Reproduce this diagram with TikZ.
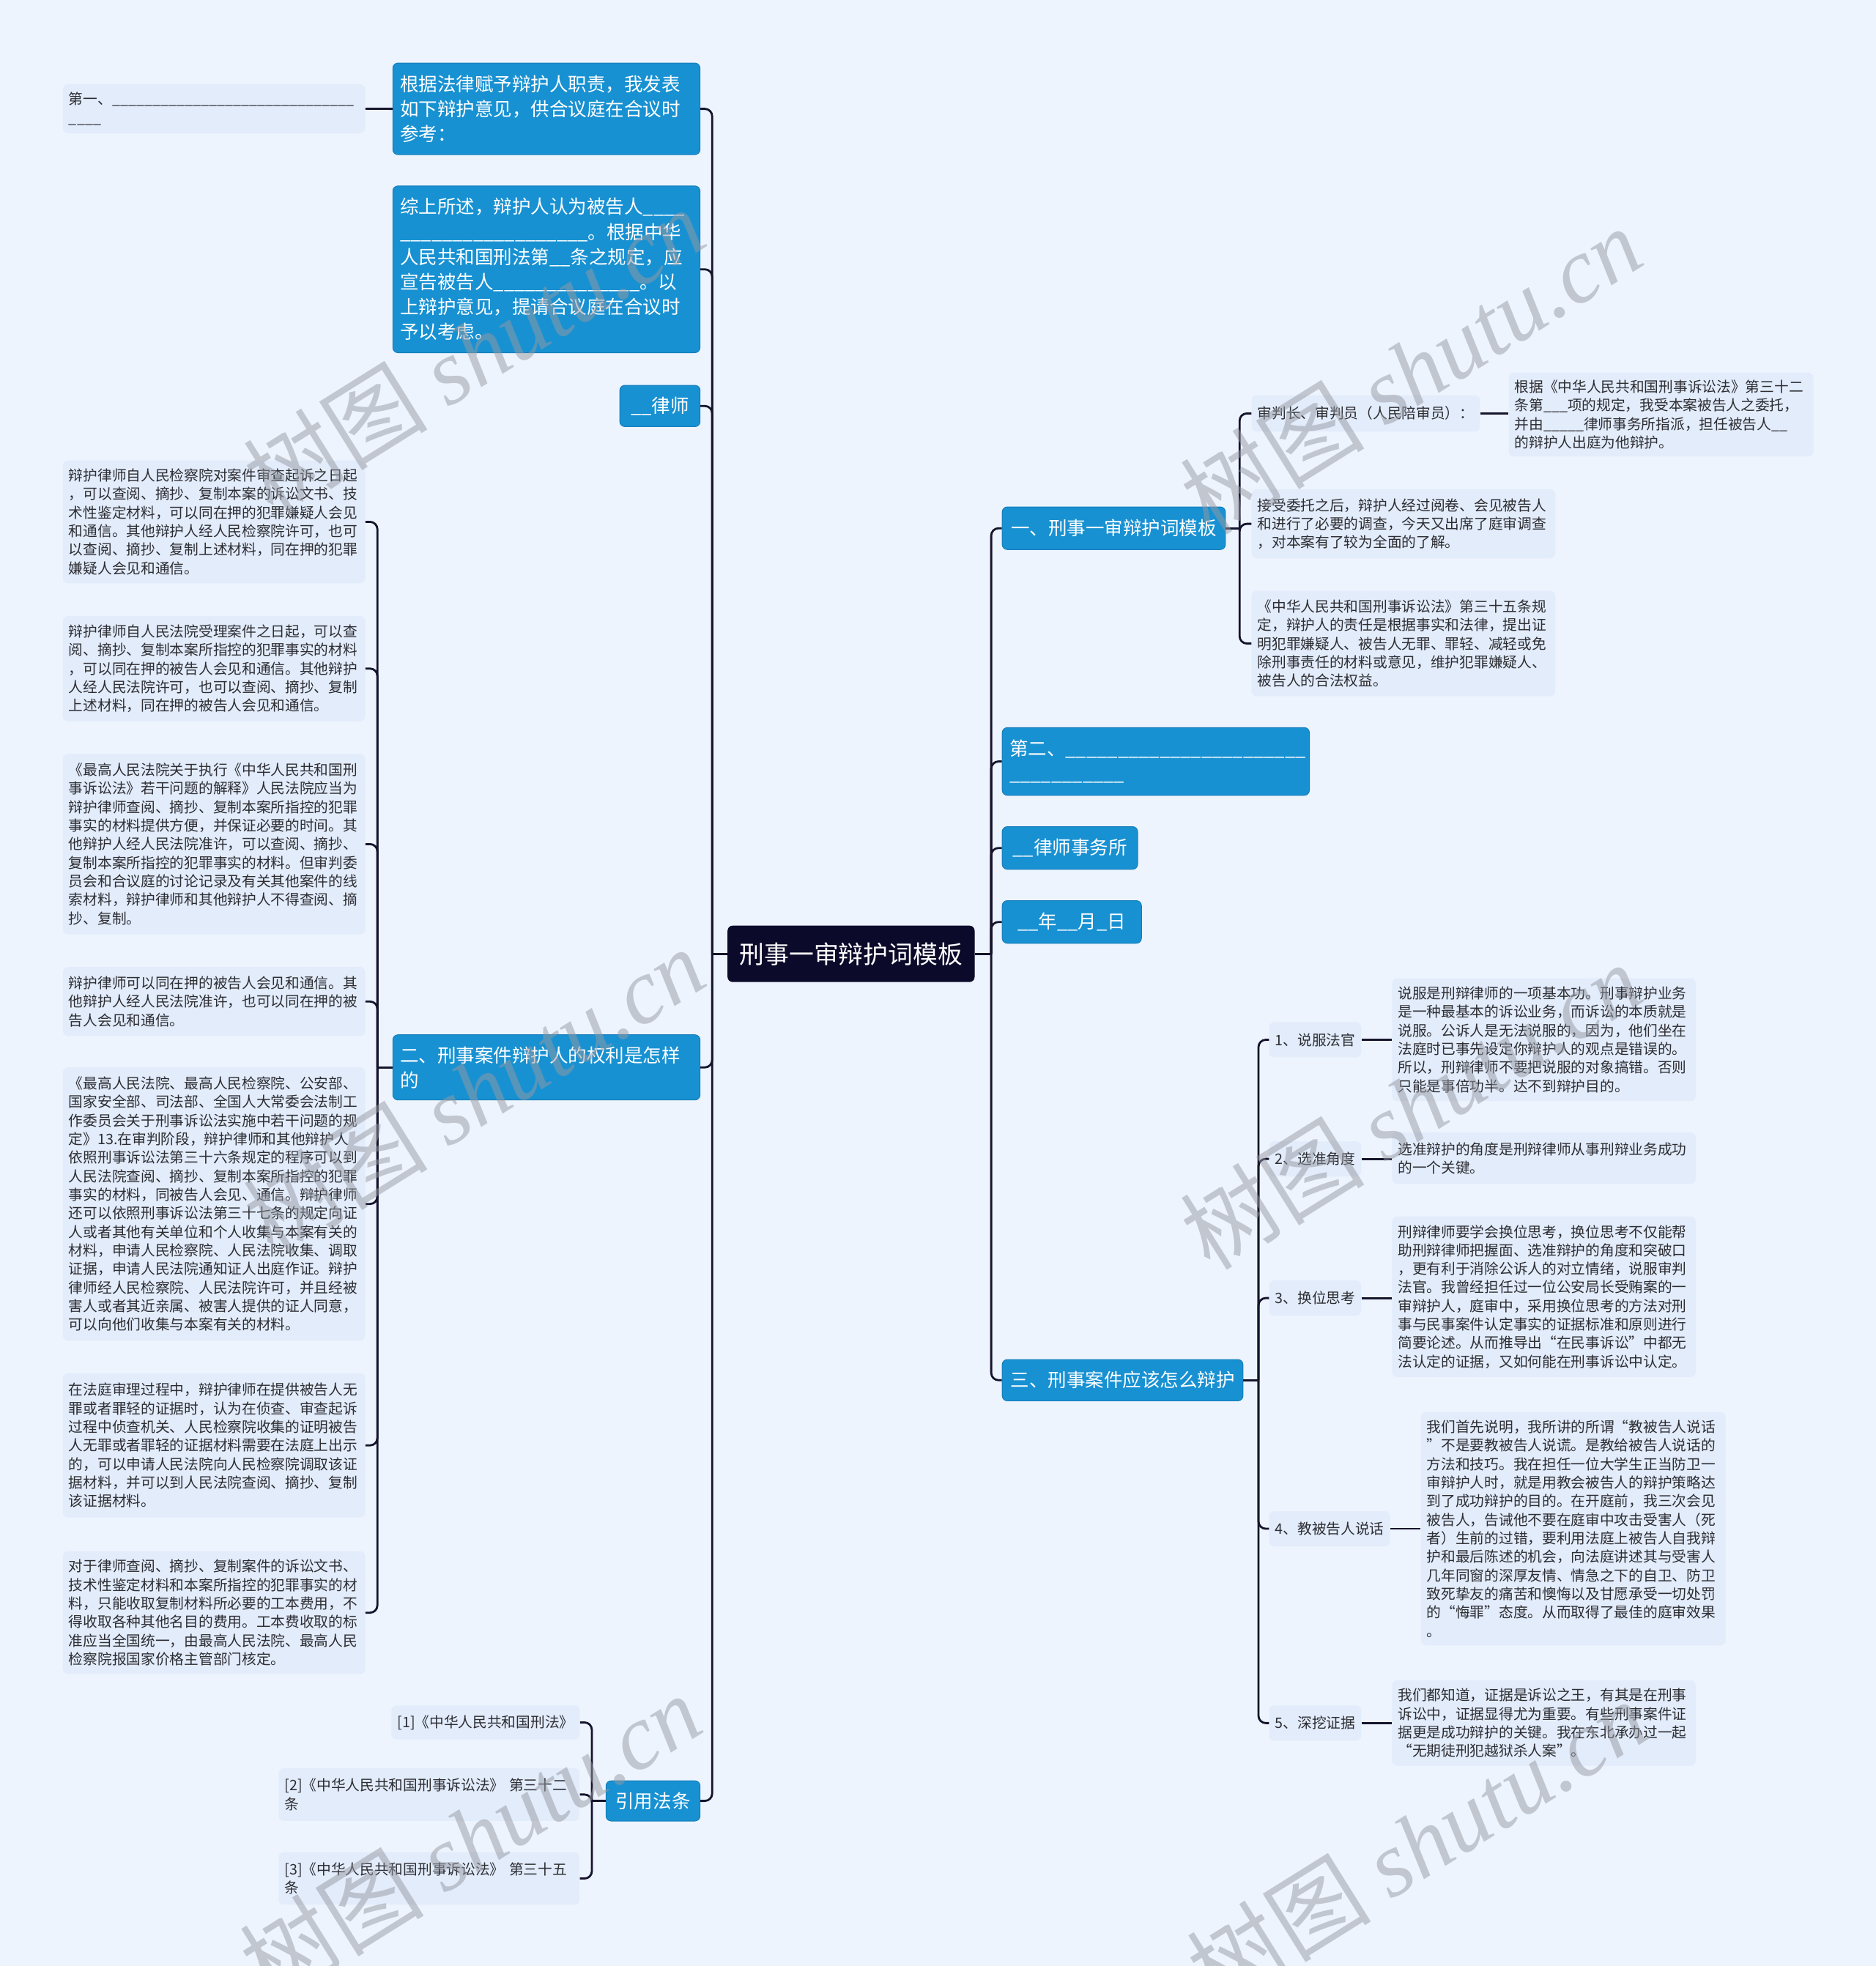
\documentclass[tikz,border=0pt]{standalone}
\usepackage{fontspec}
\setmainfont{Noto Sans CJK SC}
\newfontfamily\wmlatin{Liberation Serif}
\definecolor{bgC}{RGB}{237,244,254}
\definecolor{leafC}{RGB}{226,236,251}
\definecolor{blueC}{RGB}{24,145,210}
\definecolor{blueD}{RGB}{20,125,185}
\definecolor{rootC}{RGB}{12,10,42}
\definecolor{lineC}{RGB}{22,20,44}
\definecolor{txtC}{RGB}{45,45,50}
\definecolor{wmC}{RGB}{150,153,162}
\newcount\blankcnt
\newcommand\blank[1]{\blankcnt=#1\relax\loop\ifnum\blankcnt>0 \char95\advance\blankcnt by -1\repeat}
\tikzset{
 base/.style={anchor=north west, inner ysep=0pt, rounded corners=3.5pt},
 bluebox/.style={base, fill=blueC, draw=blueD, line width=0.5pt, text=white, font=\fontsize{12.75}{17.1}\selectfont, inner xsep=5pt, align=left},
 leafbox/.style={base, fill=leafC, text=txtC, font=\fontsize{9.85}{12.66}\selectfont, inner xsep=4pt, align=left},
 rootbox/.style={base, fill=rootC, text=white, font=\fontsize{16.9}{20}\selectfont},
 conn/.style={draw=lineC, line width=1.4pt, rounded corners=5pt},
 wm/.style={text=wmC, opacity=0.5, text opacity=0.5, rotate=32, font=\fontsize{63}{63}\selectfont, inner sep=0pt}
}
\begin{document}
\begin{tikzpicture}[x=0.8556pt, y=-0.8556pt]
\fill[bgC] (0,0) rectangle (1496,1568);
\useasboundingbox (0,0) rectangle (1496,1568);

% root
\node[rootbox, minimum width=168.6pt, minimum height=38.5pt] (root) at (580,738) {刑事一审辩护词模板};

% left side
\node[leafbox, minimum width=206.2pt, minimum height=33.4pt, text width=198.2pt] (n1) at (50,67) {第一、\blank{30}\\\blank{4}};
\node[bluebox, minimum width=209.6pt, minimum height=62.5pt, text width=199.6pt] (n2) at (313,50) {根据法律赋予辩护人职责，我发表\\如下辩护意见，供合议庭在合议时\\参考：};
\node[bluebox, minimum width=209.6pt, minimum height=113.8pt, text width=199.6pt] (n3) at (313,148) {综上所述，辩护人认为被告人\blank{4}\\\blank{18}。根据中华\\人民共和国刑法第\blank{2}条之规定，应\\宣告被告人\blank{14}。以\\上辩护意见，提请合议庭在合议时\\予以考虑。};
\node[bluebox, minimum width=54.8pt, minimum height=28.2pt] (n4) at (494,307) {\blank{2}律师};
\node[bluebox, minimum width=209.6pt, minimum height=44.5pt, text width=199.6pt] (n5) at (313,825) {二、刑事案件辩护人的权利是怎样\\的};
\node[bluebox, minimum width=64.2pt, minimum height=27.4pt] (n6) at (483,1420) {引用法条};

\node[leafbox, minimum width=206.2pt, minimum height=83.8pt, text width=198.2pt] (L1) at (50,367) {辩护律师自人民检察院对案件审查起诉之日起\\，可以查阅、摘抄、复制本案的诉讼文书、技\\术性鉴定材料，可以同在押的犯罪嫌疑人会见\\和通信。其他辩护人经人民检察院许可，也可\\以查阅、摘抄、复制上述材料，同在押的犯罪\\嫌疑人会见和通信。};
\node[leafbox, minimum width=206.2pt, minimum height=71.9pt, text width=198.2pt] (L2) at (50,491) {辩护律师自人民法院受理案件之日起，可以查\\阅、摘抄、复制本案所指控的犯罪事实的材料\\，可以同在押的被告人会见和通信。其他辩护\\人经人民法院许可，也可以查阅、摘抄、复制\\上述材料，同在押的被告人会见和通信。};
\node[leafbox, minimum width=206.2pt, minimum height=123.2pt, text width=198.2pt] (L3) at (50,601) {《最高人民法院关于执行《中华人民共和国刑\\事诉讼法》若干问题的解释》人民法院应当为\\辩护律师查阅、摘抄、复制本案所指控的犯罪\\事实的材料提供方便，并保证必要的时间。其\\他辩护人经人民法院准许，可以查阅、摘抄、\\复制本案所指控的犯罪事实的材料。但审判委\\员会和合议庭的讨论记录及有关其他案件的线\\索材料，辩护律师和其他辩护人不得查阅、摘\\抄、复制。};
\node[leafbox, minimum width=206.2pt, minimum height=47.1pt, text width=198.2pt] (L4) at (50,771) {辩护律师可以同在押的被告人会见和通信。其\\他辩护人经人民法院准许，也可以同在押的被\\告人会见和通信。};
\node[leafbox, minimum width=206.2pt, minimum height=186.5pt, text width=198.2pt] (L5) at (50,851) {《最高人民法院、最高人民检察院、公安部、\\国家安全部、司法部、全国人大常委会法制工\\作委员会关于刑事诉讼法实施中若干问题的规\\定》13.在审判阶段，辩护律师和其他辩护人\\依照刑事诉讼法第三十六条规定的程序可以到\\人民法院查阅、摘抄、复制本案所指控的犯罪\\事实的材料，同被告人会见、通信。辩护律师\\还可以依照刑事诉讼法第三十七条的规定向证\\人或者其他有关单位和个人收集与本案有关的\\材料，申请人民检察院、人民法院收集、调取\\证据，申请人民法院通知证人出庭作证。辩护\\律师经人民检察院、人民法院许可，并且经被\\害人或者其近亲属、被害人提供的证人同意，\\可以向他们收集与本案有关的材料。};
\node[leafbox, minimum width=206.2pt, minimum height=98.4pt, text width=198.2pt] (L6) at (50,1095) {在法庭审理过程中，辩护律师在提供被告人无\\罪或者罪轻的证据时，认为在侦查、审查起诉\\过程中侦查机关、人民检察院收集的证明被告\\人无罪或者罪轻的证据材料需要在法庭上出示\\的，可以申请人民法院向人民检察院调取该证\\据材料，并可以到人民法院查阅、摘抄、复制\\该证据材料。};
\node[leafbox, minimum width=206.2pt, minimum height=83.8pt, text width=198.2pt] (L7) at (50,1237) {对于律师查阅、摘抄、复制案件的诉讼文书、\\技术性鉴定材料和本案所指控的犯罪事实的材\\料，只能收取复制材料所必要的工本费用，不\\得收取各种其他名目的费用。工本费收取的标\\准应当全国统一，由最高人民法院、最高人民\\检察院报国家价格主管部门核定。};

\node[leafbox, minimum width=128.3pt, minimum height=23.1pt] (r1) at (312,1360) {[1]《中华人民共和国刑法》};
\node[leafbox, minimum width=205.3pt, minimum height=35.9pt, text width=197.3pt] (r2) at (222,1410) {[2]《中华人民共和国刑事诉讼法》 第三十二\\条};
\node[leafbox, minimum width=205.3pt, minimum height=35.9pt, text width=197.3pt] (r3) at (222,1477) {[3]《中华人民共和国刑事诉讼法》 第三十五\\条};

% right side
\node[bluebox, minimum width=152.3pt, minimum height=29.1pt] (R1) at (799,404) {一、刑事一审辩护词模板};
\node[leafbox, minimum width=155.7pt, minimum height=24.8pt] (R1a) at (998,315) {审判长、审判员（人民陪审员）：};
\node[leafbox, minimum width=207.9pt, minimum height=57.3pt, text width=199.9pt] (R1a1) at (1203,297) {根据《中华人民共和国刑事诉讼法》第三十二\\条第\blank{3}项的规定，我受本案被告人之委托，\\并由\blank{5}律师事务所指派，担任被告人\blank{2}\\的辩护人出庭为他辩护。};
\node[leafbox, minimum width=207.1pt, minimum height=47.1pt, text width=199.1pt] (R1b) at (998,390) {接受委托之后，辩护人经过阅卷、会见被告人\\和进行了必要的调查，今天又出席了庭审调查\\，对本案有了较为全面的了解。};
\node[leafbox, minimum width=207.1pt, minimum height=71.9pt, text width=199.1pt] (R1c) at (998,471) {《中华人民共和国刑事诉讼法》第三十五条规\\定，辩护人的责任是根据事实和法律，提出证\\明犯罪嫌疑人、被告人无罪、罪轻、减轻或免\\除刑事责任的材料或意见，维护犯罪嫌疑人、\\被告人的合法权益。};
\node[bluebox, minimum width=209.6pt, minimum height=46.2pt, text width=199.6pt] (R2) at (799,580) {第二、\blank{23}\\\blank{11}};
\node[bluebox, minimum width=92.4pt, minimum height=29.1pt] (R3) at (799,659) {\blank{2}律师事务所};
\node[bluebox, minimum width=95pt, minimum height=29.1pt] (R4) at (799,718) {\blank{2}年\blank{2}月\blank{1}日};
\node[bluebox, minimum width=164.3pt, minimum height=28.2pt] (R5) at (799,1084) {三、刑事案件应该怎么辩护};

\node[leafbox, minimum width=62.5pt, minimum height=24pt] (S1) at (1012,815) {1、说服法官};
\node[leafbox, minimum width=62.5pt, minimum height=24pt] (S2) at (1012,910) {2、选准角度};
\node[leafbox, minimum width=62.5pt, minimum height=24pt] (S3) at (1012,1021) {3、换位思考};
\node[leafbox, minimum width=79.6pt, minimum height=24pt] (S4) at (1012,1205) {4、教被告人说话};
\node[leafbox, minimum width=62.5pt, minimum height=24pt] (S5) at (1012,1360) {5、深挖证据};

\node[leafbox, minimum width=207.1pt, minimum height=83.8pt, text width=199.1pt] (T1) at (1110,780) {说服是刑辩律师的一项基本功。刑事辩护业务\\是一种最基本的诉讼业务，而诉讼的本质就是\\说服。公诉人是无法说服的，因为，他们坐在\\法庭时已事先设定你辩护人的观点是错误的。\\所以，刑辩律师不要把说服的对象搞错。否则\\只能是事倍功半。达不到辩护目的。};
\node[leafbox, minimum width=207.1pt, minimum height=35.1pt, text width=199.1pt] (T2) at (1110,903) {选准辩护的角度是刑辩律师从事刑辩业务成功\\的一个关键。};
\node[leafbox, minimum width=207.1pt, minimum height=109.5pt, text width=199.1pt] (T3) at (1110,970) {刑辩律师要学会换位思考，换位思考不仅能帮\\助刑辩律师把握面、选准辩护的角度和突破口\\，更有利于消除公诉人的对立情绪，说服审判\\法官。我曾经担任过一位公安局长受贿案的一\\审辩护人，庭审中，采用换位思考的方法对刑\\事与民事案件认定事实的证据标准和原则进行\\简要论述。从而推导出“在民事诉讼”中都无\\法认定的证据，又如何能在刑事诉讼中认定。};
\node[leafbox, minimum width=207.9pt, minimum height=159.1pt, text width=199.9pt] (T4) at (1133,1126) {我们首先说明，我所讲的所谓“教被告人说话\\”不是要教被告人说谎。是教给被告人说话的\\方法和技巧。我在担任一位大学生正当防卫一\\审辩护人时，就是用教会被告人的辩护策略达\\到了成功辩护的目的。在开庭前，我三次会见\\被告人，告诫他不要在庭审中攻击受害人（死\\者）生前的过错，要利用法庭上被告人自我辩\\护和最后陈述的机会，向法庭讲述其与受害人\\几年同窗的深厚友情、情急之下的自卫、防卫\\致死挚友的痛苦和懊悔以及甘愿承受一切处罚\\的“悔罪”态度。从而取得了最佳的庭审效果\\。};
\node[leafbox, minimum width=207.1pt, minimum height=58.2pt, text width=199.1pt] (T5) at (1110,1340) {我们都知道，证据是诉讼之王，有其是在刑事\\诉讼中，证据显得尤为重要。有些刑事案件证\\据更是成功辩护的关键。我在东北承办过一起\\“无期徒刑犯越狱杀人案”。};

% connectors
\coordinate (tl) at ([xshift=-10.3pt]root.west);
\coordinate (tr) at ([xshift=11.1pt]root.east);
\draw[conn] (root.west) -- (tl);
\draw[conn] (root.east) -- (tr);
\foreach \n in {n2,n3,n4,n5,n6} \draw[conn] (tl) |- (\n.east);
\foreach \n in {R1,R2,R3,R4,R5} \draw[conn] (tr) |- (\n.west);
\draw[conn] (n2.west) -- (n1.east);

\coordinate (t5l) at ([xshift=-10.3pt]n5.west);
\draw[conn] (n5.west) -- (t5l);
\foreach \n in {L1,L2,L3,L4,L5,L6,L7} \draw[conn] (t5l) |- (\n.east);

\coordinate (t6l) at ([xshift=-9.4pt]n6.west);
\draw[conn] (n6.west) -- (t6l);
\foreach \n in {r1,r2,r3} \draw[conn] (t6l) |- (\n.east);

\coordinate (t1r) at ([xshift=9.4pt]R1.east);
\draw[conn] (R1.east) -- (t1r);
\foreach \n in {R1a,R1b,R1c} \draw[conn] (t1r) |- (\n.west);
\draw[conn] (R1a.east) -- (R1a1.west |- R1a.east);

\coordinate (t5r) at ([xshift=10.3pt]R5.east);
\draw[conn] (R5.east) -- (t5r);
\foreach \n in {S1,S2,S3,S4,S5} \draw[conn] (t5r) |- (\n.west);
\draw[conn] (S1.east) -- (T1.west |- S1.east);
\draw[conn] (S2.east) -- (T2.west |- S2.east);
\draw[conn] (S3.east) -- (T3.west |- S3.east);
\draw[conn] (S4.east) -- (T4.west |- S4.east);
\draw[conn] (S5.east) -- (T5.west |- S5.east);

% watermarks
\node[wm] (wm1) at (378,280) {树图 {\wmlatin\itshape shutu.cn}};
\node[wm] (wm2) at (378,870) {树图 {\wmlatin\itshape shutu.cn}};
\node[wm] (wm3) at (375,1465) {树图 {\wmlatin\itshape shutu.cn}};
\node[wm] (wm4) at (1125,295) {树图 {\wmlatin\itshape shutu.cn}};
\node[wm] (wm5) at (1125,882) {树图 {\wmlatin\itshape shutu.cn}};
\node[wm] (wm6) at (1130,1470) {树图 {\wmlatin\itshape shutu.cn}};
\end{tikzpicture}
\end{document}
